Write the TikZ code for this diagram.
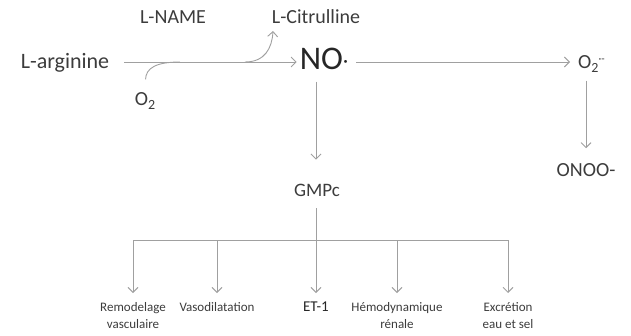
\documentclass[tikz,border=0pt]{standalone}
\usepackage{fontspec}
\setmainfont{Carlito}
\usetikzlibrary{arrows.meta}
\definecolor{linegray}{RGB}{160,160,160}
\definecolor{textgray}{RGB}{60,60,60}

\begin{document}
\begin{tikzpicture}[x=1pt,y=-1pt,inner sep=0pt,
	txt/.style={text=textgray,font=\fontsize{20}{24}\selectfont},
	lab/.style={text=textgray,font=\fontsize{13}{17}\selectfont,align=center,anchor=north},
	line/.style={draw=linegray,line width=0.9pt},
	link/.style={line,-{Straight Barb[length=5pt,width=10pt]}}]
	\useasboundingbox (0,0) rectangle (631,335);
	\node [txt,font=\fontsize{22}{26}\selectfont] (arg) at (65,63) {L-arginine};
	\node [txt] (lname) at (173,17) {L-NAME};
	\node [txt] (cit) at (316,17) {L-Citrulline};
	\node [txt] (o2) at (145,101) {O\raisebox{-4pt}{\fontsize{14}{14}\selectfont 2}};
	\node [txt,text=black!85,font=\fontsize{33}{40}\selectfont] (no) at (324,58.5) {NO\raisebox{2pt}{\fontsize{20}{20}\selectfont·}};
	\node [txt,anchor=west] (o2r) at (578,64) {O\raisebox{-4pt}{\fontsize{14}{14}\selectfont 2}\raisebox{6pt}{\fontsize{11}{11}\selectfont·-}};
	\node [txt] (onoo) at (586,170) {ONOO-};
	\node [txt,font=\fontsize{19}{23}\selectfont] (gmpc) at (317,190) {GMPc};
	\coordinate (bar) at (316,240);
	\coordinate (join) at (180,62);
	\coordinate (split) at (245,62);
	\coordinate (citr) at (273,31);
	% bottom row
	\node [lab] (remo) at (133,302) {Remodelage\\vasculaire};
	\node [lab] (vaso) at (217,302) {Vasodilatation};
	\node [lab,text=black!85,font=\fontsize{15}{18}\selectfont] (et) at (316,302) {ET-1};
	\node [lab] (hemo) at (397,302) {Hémodynamique\\rénale};
	\node [lab] (excr) at (508,302) {Excrétion\\eau et sel};
	\path [every edge/.style={link}]
	(arg.east |- join) edge [shorten <=15pt,shorten >=3pt] (join -| no.west)
	(join -| no.east) edge [shorten <=8pt,shorten >=8pt] (join -| o2r.west)
	(bar |- no.south) edge [shorten <=12pt,shorten >=24pt] (bar |- gmpc.north)
	(onoo.north |- o2r.south) edge [shorten <=8pt,shorten >=15pt] (onoo.north);
	\draw [line,shorten <=13pt] (o2.north) .. controls (146,68) and (156,62) .. (join);
	\draw [link] (split) .. controls (265,62) and (272,48) .. (citr);
	\draw [line,shorten <=12pt] (bar |- gmpc.south) -- (bar);
	\draw [link,shorten >=9pt] (bar) -| (remo.north);
	\draw [link,shorten >=9pt] (bar) -| (vaso.north);
	\draw [link,shorten >=9pt] (bar) -- (et.north);
	\draw [link,shorten >=9pt] (bar) -| (hemo.north);
	\draw [link,shorten >=9pt] (bar) -| (excr.north);
\end{tikzpicture}
\end{document}
